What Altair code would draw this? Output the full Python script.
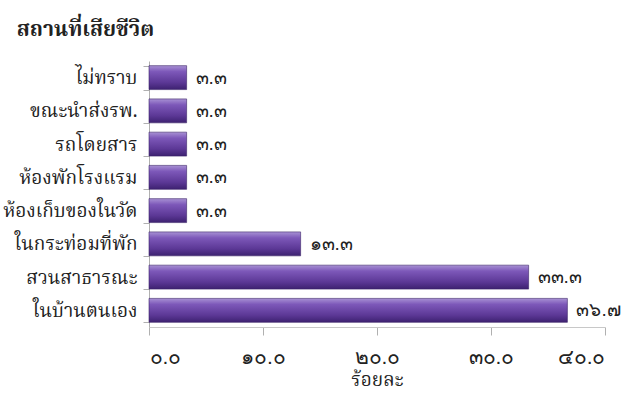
import altair as alt
import pandas as pd

categories = ["ไม่ทราบ", "ขณะนำส่งรพ.", "รถโดยสาร", "ห้องพักโรงแรม",
              "ห้องเก็บของในวัด", "ในกระท่อมที่พัก", "สวนสาธารณะ", "ในบ้านตนเอง"]
values = [3.3, 3.3, 3.3, 3.3, 3.3, 13.3, 33.3, 36.7]
value_labels = ["๓.๓", "๓.๓", "๓.๓", "๓.๓", "๓.๓", "๑๓.๓", "๓๓.๓", "๓๖.๗"]
tick_values = [0, 10, 20, 30, 40]
tick_labels = ["๐.๐", "๑๐.๐", "๒๐.๐", "๓๐.๐", "๔๐.๐"]

df = pd.DataFrame({"place": categories, "pct": values, "label": value_labels})

label_expr = "[" + ",".join("'" + t + "'" for t in tick_labels) + "][round(datum.value/10)]"

thai_font = "Noto Serif Thai, Noto Sans Thai, Garuda, Loma, serif"

y_enc = alt.Y("place:N", sort=categories, title=None,
              scale=alt.Scale(paddingInner=0.28, paddingOuter=0.14),
              axis=alt.Axis(tickBand="extent", domainColor="#b0b0b0", tickColor="#b0b0b0",
                            tickSize=6, labelFontSize=19, labelColor="#222222",
                            labelFont=thai_font, labelPadding=6))
x_enc = alt.X("pct:Q", title="ร้อยละ",
              scale=alt.Scale(domain=[0, 40], nice=False),
              axis=alt.Axis(values=tick_values, labelExpr=label_expr, grid=False,
                            domainColor="#c8c8c8", tickColor="#b0b0b0", tickSize=8,
                            labelFontSize=21, labelColor="#222222", labelPadding=11,
                            titleFontSize=19, titleFont=thai_font, titleFontWeight="normal",
                            titleColor="#222222", titlePadding=3))

grad = alt.Gradient(gradient="linear", x1=0, x2=0, y1=0, y2=1,
                    stops=[alt.GradientStop(offset=0, color="#a891d4"),
                           alt.GradientStop(offset=0.25, color="#7d58b9"),
                           alt.GradientStop(offset=0.7, color="#5c3896"),
                           alt.GradientStop(offset=1, color="#3d2170")])

bars = alt.Chart(df).mark_bar(color=grad, stroke="#3a2468", strokeWidth=0.6).encode(y=y_enc, x=x_enc)
text = alt.Chart(df).mark_text(align="left", baseline="middle", dx=9, fontSize=19,
                               color="#222222").encode(y=alt.Y("place:N", sort=categories),
                                                       x="pct:Q", text="label:N")

chart = (bars + text).properties(
    width=456, height=266,
    background="white",
    title=alt.TitleParams("สถานที่เสียชีวิต", anchor="start", frame="bounds", dx=14, fontSize=21,
                          fontWeight="bold", font=thai_font, color="#222222", offset=12),
    autosize=alt.AutoSizeParams(type="none"),
    padding={"left": 149, "top": 61, "right": 20, "bottom": 71},
).configure_view(strokeWidth=0, stroke="transparent")

chart.save("out.html", embed_options={"renderer": "svg", "actions": False})
